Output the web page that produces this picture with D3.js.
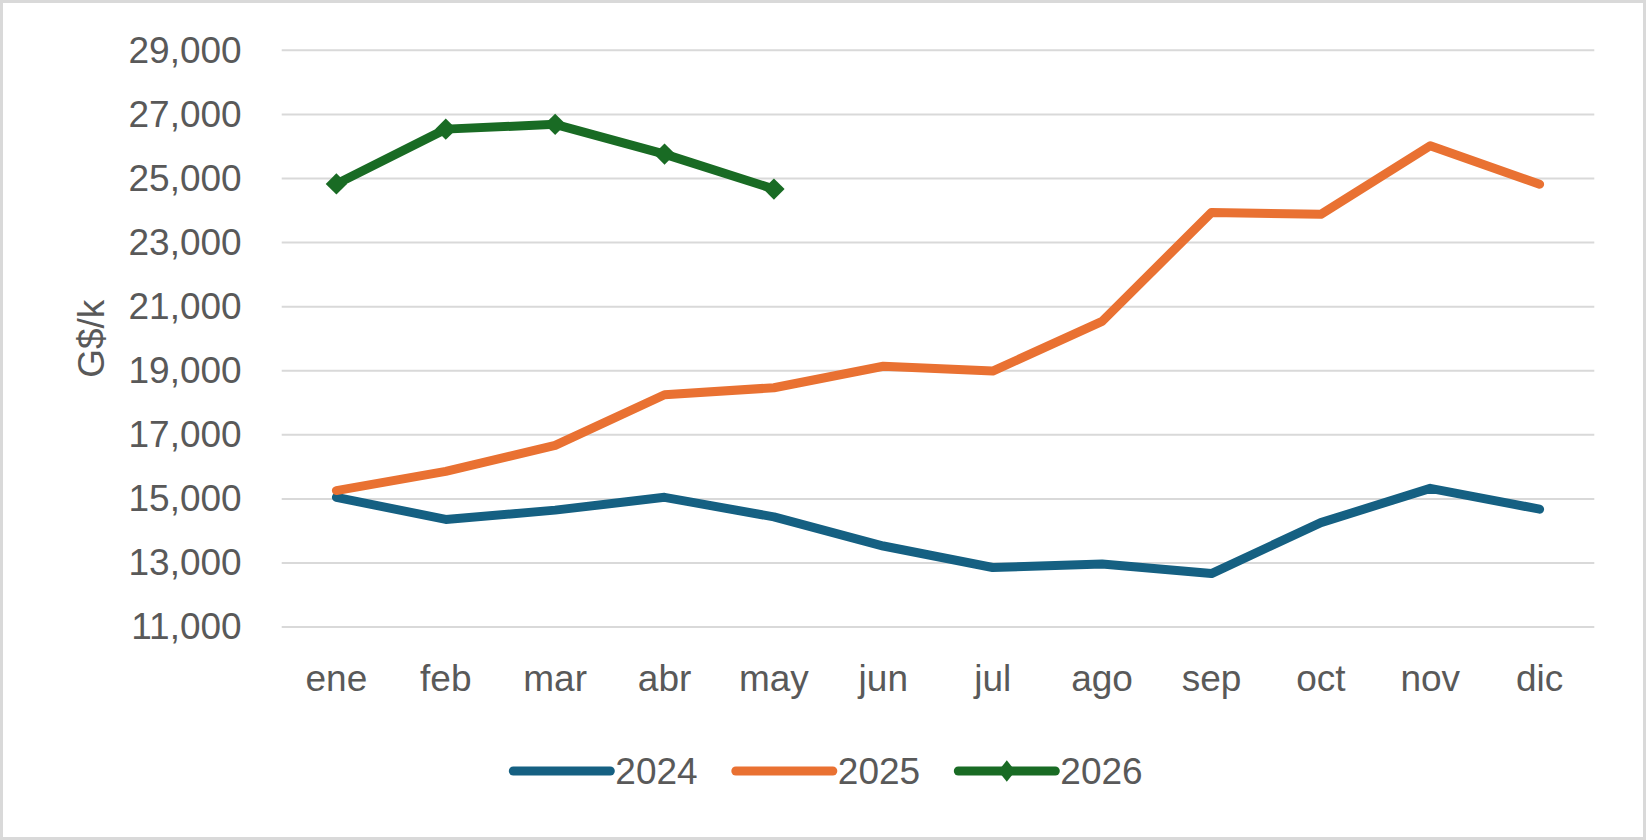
<!DOCTYPE html>
<html>
<head>
<meta charset="utf-8">
<script src="https://cdn.jsdelivr.net/npm/d3@7"></script>
<style>
    body { margin: 0; background: #fff; }
    svg text { font-family: "Liberation Sans", Arial, sans-serif; fill: #595959; }
</style>
</head>
<body>
<script>
// datos
const MONTHS = ['ene', 'feb', 'mar', 'abr', 'may', 'jun', 'jul', 'ago', 'sep', 'oct', 'nov', 'dic']
const SERIES_NAMES = ['2024', '2025', '2026']
const VALUES_2024 = [15050, 14360, 14650, 15050, 14440, 13530, 12860, 12970, 12670, 14260, 15330, 14680]
const VALUES_2025 = [15260, 15860, 16670, 18250, 18470, 19140, 18990, 20540, 23940, 23880, 26020, 24820]
const VALUES_2026 = [24830, 26540, 26690, 25760, 24670]
const Y_TICKS = [11000, 13000, 15000, 17000, 19000, 21000, 23000, 25000, 27000, 29000]
const COLORS = ['#156082', '#E97132', '#196B24']

let w = 1647,
    h = 840

// área del gráfico
let plot = { left: 281.7, right: 1594.3, top: 50.3, bottom: 627.1 }

let svg = d3.select('body').append('svg')
    .attr('width', w)
    .attr('height', h)

svg.append('rect')
    .attr('x', 1.5)
    .attr('y', 1.5)
    .attr('width', w - 4)
    .attr('height', h - 3)
    .attr('fill', '#fff')
    .attr('stroke', '#D9D9D9')
    .attr('stroke-width', 3)

let x = d3.scaleBand().domain(MONTHS).range([plot.left, plot.right])
let y = d3.scaleLinear().domain([11000, 29000]).range([plot.bottom, plot.top])

// líneas de cuadrícula
svg.append('g')
    .selectAll('line')
    .data(Y_TICKS)
    .enter()
    .append('line')
    .attr('x1', plot.left)
    .attr('x2', plot.right)
    .attr('y1', d => y(d))
    .attr('y2', d => y(d))
    .attr('stroke', '#D9D9D9')
    .attr('stroke-width', 2)

// eje y
let yAxis = svg.append('g')
    .attr('transform', 'translate(' + plot.left + ',0)')
    .call(d3.axisLeft(y).tickValues(Y_TICKS).tickFormat(d3.format(',')).tickSize(0).tickPadding(40))
yAxis.select('.domain').remove()
yAxis.selectAll('text')
    .attr('font-size', 37)
    .attr('font-family', null)
    .attr('fill', '#595959')

// eje x
let xAxis = svg.append('g')
    .attr('transform', 'translate(0,' + plot.bottom + ')')
    .call(d3.axisBottom(x).tickSize(0).tickPadding(38))
xAxis.select('.domain').remove()
xAxis.selectAll('text')
    .attr('font-size', 37)
    .attr('font-family', null)
    .attr('fill', '#595959')

// título del eje y
svg.append('text')
    .attr('transform', 'translate(104,' + (plot.top + plot.bottom) / 2 + ') rotate(-90)')
    .attr('text-anchor', 'middle')
    .attr('font-size', 37)
    .text('G$/k')

// series
let seriesData = [VALUES_2024, VALUES_2025, VALUES_2026].map((vals, i) => ({
    name: SERIES_NAMES[i],
    color: COLORS[i],
    points: vals.map((v, j) => ({ month: MONTHS[j], value: v }))
}))

let line = d3.line()
    .x(d => x(d.month) + x.bandwidth() / 2)
    .y(d => y(d.value))

svg.append('g')
    .selectAll('path')
    .data(seriesData)
    .enter()
    .append('path')
    .attr('d', d => line(d.points))
    .attr('fill', 'none')
    .attr('stroke', d => d.color)
    .attr('stroke-width', 9)
    .attr('stroke-linejoin', 'round')
    .attr('stroke-linecap', 'round')

let diamond = d3.symbol().type(d3.symbolDiamond2).size(290)

// marcadores 2026
svg.append('g')
    .selectAll('path')
    .data(seriesData[2].points)
    .enter()
    .append('path')
    .attr('d', diamond)
    .attr('transform', d => 'translate(' + (x(d.month) + x.bandwidth() / 2) + ',' + y(d.value) + ')')
    .attr('fill', COLORS[2])

// leyenda
const LEGEND_LINE = 97,
      LEGEND_GAP = 5,
      LEGEND_SPACING = 222.5,
      LEGEND_Y = 771

let legendStart = 513.3
let legend = svg.append('g')
    .selectAll('g')
    .data(seriesData)
    .enter()
    .append('g')
    .attr('transform', (d, i) => 'translate(' + (legendStart + i * LEGEND_SPACING) + ',' + LEGEND_Y + ')')

legend.append('line')
    .attr('x1', 0)
    .attr('x2', LEGEND_LINE)
    .attr('stroke', d => d.color)
    .attr('stroke-width', 9)
    .attr('stroke-linecap', 'round')

legend.filter((d, i) => i === 2)
    .append('path')
    .attr('d', diamond)
    .attr('transform', 'translate(' + LEGEND_LINE / 2 + ',0) scale(0.8,1)')
    .attr('fill', COLORS[2])

legend.append('text')
    .attr('x', LEGEND_LINE + LEGEND_GAP)
    .attr('dy', '0.35em')
    .attr('font-size', 37)
    .text(d => d.name)
</script>
</body>
</html>
